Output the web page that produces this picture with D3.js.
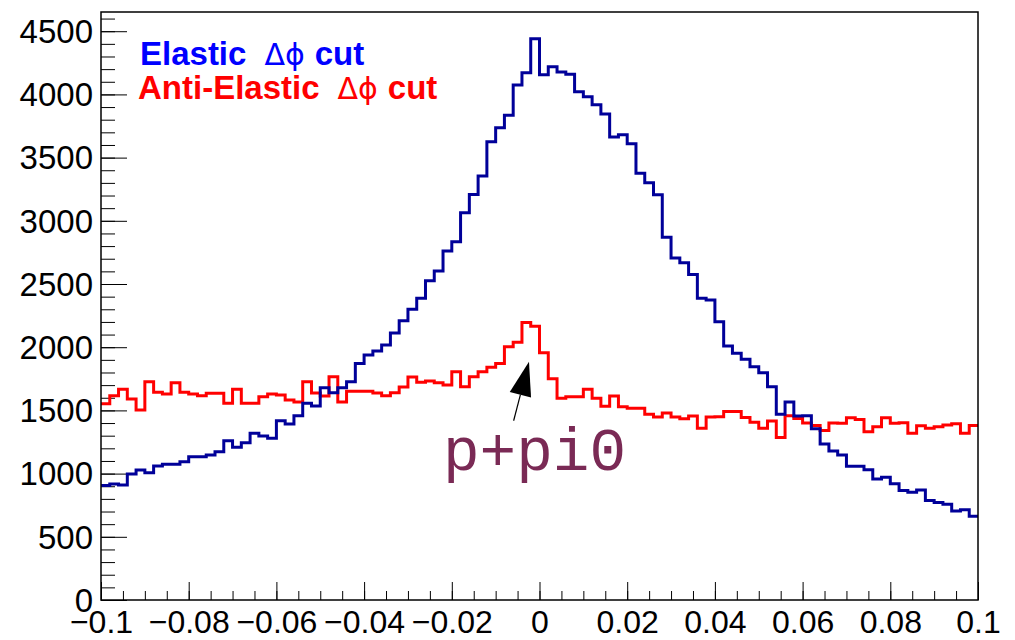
<!DOCTYPE html>
<html>
<head>
<meta charset="utf-8">
<script src="https://d3js.org/d3.v7.min.js"></script>
<style>
  body {
    margin: 0;
    padding: 0;
    background-color: white;
    overflow: hidden;
  }
  svg { display: block; }
</style>
</head>
<body>
<svg width="1015" height="640"></svg>
<script>
  // histogram binning
  const xMin = -0.1, xMax = 0.1, nBins = 100;

  // bin contents (100 bins, width 0.002)
  const elastic = [
     906,  918,  910,  997, 1028, 1007, 1060, 1074, 1074, 1094,
    1134, 1134, 1147, 1173, 1260, 1208, 1244, 1319, 1297, 1279,
    1418, 1392, 1458, 1556, 1535, 1680, 1640, 1680, 1727, 1872,
    1938, 1970, 2017, 2112, 2210, 2300, 2387, 2526, 2603, 2761,
    2835, 3064, 3209, 3354, 3626, 3737, 3835, 4074, 4172, 4441,
    4156, 4219, 4178, 4160, 4021, 3982, 3918, 3845, 3663, 3681,
    3610, 3376, 3301, 3206, 2869, 2705, 2669, 2575, 2387, 2373,
    2202, 2009, 1952, 1904, 1846, 1798, 1688, 1469, 1566, 1455,
    1458, 1355, 1234, 1178, 1147, 1058, 1058, 1030,  957,  971,
     920,  867,  853,  870,  788,  771,  758,  704,  715,  662
  ];

  const antiElastic = [
    1553, 1616, 1667, 1590, 1503, 1727, 1643, 1630, 1719, 1643,
    1630, 1616, 1635, 1635, 1556, 1667, 1556, 1556, 1608, 1630,
    1622, 1582, 1566, 1727, 1637, 1614, 1767, 1566, 1652, 1652,
    1652, 1638, 1615, 1640, 1685, 1765, 1722, 1733, 1719, 1701,
    1806, 1688, 1767, 1806, 1841, 1872, 2004, 2039, 2196, 2166,
    1956, 1750, 1596, 1608, 1608, 1667, 1596, 1532, 1614, 1529,
    1518, 1518, 1470, 1448, 1480, 1448, 1434, 1455, 1358, 1448,
    1450, 1492, 1492, 1443, 1407, 1358, 1417, 1285, 1457, 1435,
    1400, 1380, 1342, 1400, 1398, 1441, 1429, 1332, 1371, 1441,
    1398, 1403, 1319, 1378, 1358, 1371, 1384, 1395, 1319, 1380
  ];

  const seriesNames = ["Elastic", "Anti-Elastic"];
  const xTicks = [-0.1, -0.08, -0.06, -0.04, -0.02, 0, 0.02, 0.04, 0.06, 0.08, 0.1];
  const yTicks = [0, 500, 1000, 1500, 2000, 2500, 3000, 3500, 4000, 4500];
  const yMax = 4652;

  // annotation (data coordinates)
  const noteText = "p+pi0";
  const notePos = [-0.022, 1028];
  const arrowFrom = [-0.0059, 1418];
  const arrowTo = [-0.0024, 1885];

  const svg = d3.select("svg"),
        margin = { top: 12, right: 37, bottom: 40, left: 101 },
        width = +svg.attr("width") - margin.left - margin.right,
        height = +svg.attr("height") - margin.top - margin.bottom,
        g = svg.append("g").attr("transform", "translate(" + margin.left + "," + margin.top + ")");

  const xScale = d3.scaleLinear().domain([xMin, xMax]).range([0, width]);
  const yScale = d3.scaleLinear().domain([0, yMax]).range([height, 0]);

  const binWidth = (xMax - xMin) / nBins;
  const toSteps = vals => vals.map((v, i) => ({ x: xMin + i * binWidth, y: v }))
                              .concat([{ x: xMax, y: vals[vals.length - 1] }]);

  const line = d3.line()
      .x(d => xScale(d.x))
      .y(d => yScale(d.y))
      .curve(d3.curveStepAfter);

  // minor ticks
  g.append("g")
      .attr("transform", "translate(0," + height + ")")
      .call(d3.axisBottom(xScale).tickValues(d3.range(-0.1, 0.1001, 0.005)).tickSize(-9).tickFormat(""))
      .call(a => a.select(".domain").remove());
  g.append("g")
      .call(d3.axisLeft(yScale).tickValues(d3.range(0, 4601, 100)).tickSize(-14).tickFormat(""))
      .call(a => a.select(".domain").remove());

  // major ticks + labels
  const xAxis = g.append("g")
      .attr("transform", "translate(0," + height + ")")
      .call(d3.axisBottom(xScale).tickValues(xTicks).tickSize(-18).tickPadding(10)
        .tickFormat(d => d3.format("~g")(d)));
  const yAxis = g.append("g")
      .call(d3.axisLeft(yScale).tickValues(yTicks).tickSize(-26).tickPadding(8)
        .tickFormat(d3.format("d")));

  [xAxis, yAxis].forEach(a => {
    a.select(".domain").remove();
    a.attr("font-family", "'Liberation Sans', Arial, Helvetica, sans-serif")
     .attr("font-size", 33);
    a.selectAll("text").attr("fill", "black");
  });
  xAxis.attr("font-size", 32);
  yAxis.selectAll("text").attr("dy", "0.34em");
  g.selectAll(".tick line").attr("stroke", "black");

  // histograms
  g.append("path")
      .datum(toSteps(antiElastic))
      .attr("fill", "none")
      .attr("stroke", "#ff0000")
      .attr("stroke-width", 3)
      .attr("d", line);

  g.append("path")
      .datum(toSteps(elastic))
      .attr("fill", "none")
      .attr("stroke", "#000099")
      .attr("stroke-width", 3)
      .attr("d", line);

  // frame
  g.append("rect")
      .attr("width", width)
      .attr("height", height)
      .attr("fill", "none")
      .attr("stroke", "black")
      .attr("stroke-width", 1.5);

  // legend text
  const legendColors = ["#0000ff", "#ff0000"];
  seriesNames.forEach((name, i) => {
    const t = svg.append("text")
        .attr("x", i === 0 ? 140 : 138)
        .attr("y", i === 0 ? 65 : 99)
        .attr("fill", legendColors[i])
        .attr("font-family", "'Liberation Sans', Arial, Helvetica, sans-serif")
        .attr("font-size", 33);
    t.append("tspan").attr("font-weight", "bold").text(name);
    t.append("tspan").attr("dx", 18)
        .attr("font-family", "'DejaVu Sans', 'Liberation Sans', sans-serif")
        .attr("font-size", 30)
        .text("\u0394\u03d5");
    t.append("tspan").attr("dx", 10).attr("font-weight", "bold").text("cut");
  });

  // annotation arrow
  const ax0 = xScale(arrowFrom[0]), ay0 = yScale(arrowFrom[1]);
  const ax1 = xScale(arrowTo[0]), ay1 = yScale(arrowTo[1]);
  const len = Math.hypot(ax1 - ax0, ay1 - ay0);
  const ux = (ax1 - ax0) / len, uy = (ay1 - ay0) / len;
  const headLen = 34, headHalf = 11;
  const bx = ax1 - ux * headLen, by = ay1 - uy * headLen;

  g.append("line")
      .attr("x1", ax0).attr("y1", ay0)
      .attr("x2", bx).attr("y2", by)
      .attr("stroke", "black")
      .attr("stroke-width", 1.2);

  g.append("polygon")
      .attr("points", [
        [ax1, ay1],
        [bx - uy * headHalf, by + ux * headHalf],
        [bx + uy * headHalf, by - ux * headHalf]
      ].map(p => p.join(",")).join(" "))
      .attr("fill", "black");

  g.append("text")
      .attr("x", xScale(notePos[0]))
      .attr("y", yScale(notePos[1]))
      .attr("fill", "#7a2a55")
      .attr("font-family", "'Liberation Mono', 'DejaVu Sans Mono', monospace")
      .attr("font-size", 61)
      .text(noteText);
</script>
</body>
</html>
